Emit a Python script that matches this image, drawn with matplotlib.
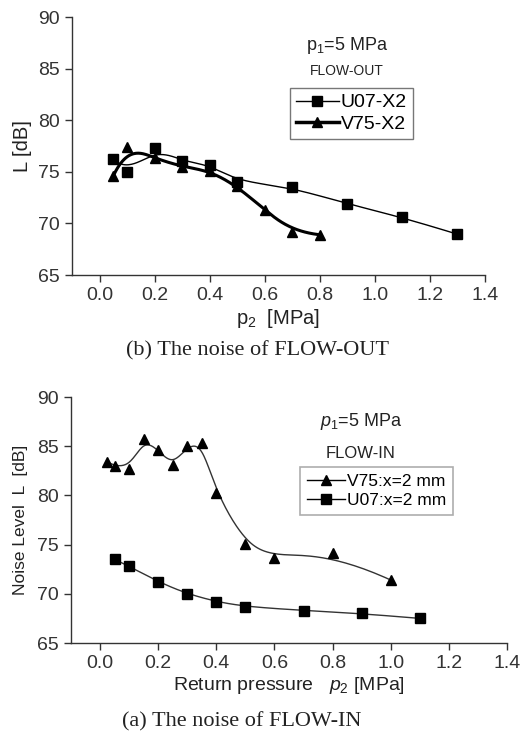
import numpy as np
import matplotlib
matplotlib.use("Agg")
import matplotlib.pyplot as plt

plt.rcParams["font.family"] = ["Liberation Sans", "DejaVu Sans"]
plt.rcParams["mathtext.fontset"] = "custom"
plt.rcParams["mathtext.rm"] = "Liberation Sans"
plt.rcParams["mathtext.it"] = "Liberation Sans:italic"

# -----
# DATA
# -----
# (b) FLOW-OUT
out_u07_p2 = [0.05, 0.1, 0.2, 0.3, 0.4, 0.5, 0.7, 0.9, 1.1, 1.3]
out_u07_L = [76.2, 75.0, 77.35, 76.0, 75.7, 74.05, 73.5, 71.85, 70.6, 68.95]
out_v75_p2 = [0.05, 0.1, 0.2, 0.3, 0.4, 0.5, 0.6, 0.7, 0.8]
out_v75_L = [74.6, 77.45, 76.3, 75.5, 75.1, 73.6, 71.3, 69.2, 68.9]

# (a) FLOW-IN
in_v75_p2 = [0.025, 0.05, 0.1, 0.15, 0.2, 0.25, 0.3, 0.35, 0.4, 0.5, 0.6, 0.8, 1.0]
in_v75_L = [83.4, 83.0, 82.7, 85.7, 84.6, 83.05, 85.0, 85.3, 80.2, 75.1, 73.6, 74.1, 71.4]
in_u07_p2 = [0.05, 0.1, 0.2, 0.3, 0.4, 0.5, 0.7, 0.9, 1.1]
in_u07_L = [73.5, 72.8, 71.2, 70.0, 69.2, 68.7, 68.3, 68.0, 67.5]

x_ticks = [0.0, 0.2, 0.4, 0.6, 0.8, 1.0, 1.2, 1.4]
y_ticks = [65, 70, 75, 80, 85, 90]


def bspline(xs, ys, n=300):
    # clamped cubic B-spline with the data points as control points
    pts = np.column_stack([xs, ys]).astype(float)
    m = len(pts)
    k = 3
    knots = np.concatenate([np.zeros(k), np.arange(m - k + 1), np.full(k, m - k)]).astype(float)
    t = np.linspace(0, m - k, n)
    t[-1] -= 1e-9
    # Cox-de Boor
    N = np.zeros((n, len(knots) - 1))
    for i in range(len(knots) - 1):
        N[:, i] = (t >= knots[i]) & (t < knots[i + 1])
    for d in range(1, k + 1):
        Nn = np.zeros((n, len(knots) - 1 - d))
        for i in range(len(knots) - 1 - d):
            a = knots[i + d] - knots[i]
            b = knots[i + d + 1] - knots[i + 1]
            left = (t - knots[i]) / a * N[:, i] if a > 0 else 0
            right = (knots[i + d + 1] - t) / b * N[:, i + 1] if b > 0 else 0
            Nn[:, i] = left + right
        N = Nn
    curve = N @ pts
    return curve[:, 0], curve[:, 1]


def style_axes(ax):
    ax.spines["top"].set_visible(False)
    ax.spines["right"].set_visible(False)
    for s in ("left", "bottom"):
        ax.spines[s].set_color("#333333")
        ax.spines[s].set_linewidth(1.0)
    ax.set_xlim(-0.1, 1.4)
    ax.set_ylim(65, 90)
    ax.set_xticks(x_ticks)
    ax.set_xticklabels([f"{v:.1f}" for v in x_ticks])
    ax.set_yticks(y_ticks)
    ax.tick_params(direction="out", length=5, width=1, colors="#333333",
                   labelsize=14, labelcolor="#333333")


fig = plt.figure(figsize=(5.2, 7.35), dpi=100)

# ----------------------
# CHART - (b) FLOW-OUT
# ----------------------
ax1 = fig.add_axes([72 / 520, (735 - 275) / 735, 413 / 520, 258 / 735])
style_axes(ax1)

cx, cy = bspline(out_u07_p2, out_u07_L)
ax1.plot(cx, cy, color="black", lw=1.0)
ax1.plot(out_u07_p2, out_u07_L, ls="none", marker="s", ms=6.5, color="black")
cx, cy = bspline(out_v75_p2, out_v75_L)
ax1.plot(cx, cy, color="black", lw=2.2)
ax1.plot(out_v75_p2, out_v75_L, ls="none", marker="^", ms=7, color="black")

h1, = ax1.plot([], [], color="black", lw=1.0, marker="s", ms=6.5)
h2, = ax1.plot([], [], color="black", lw=2.5, marker="^", ms=7)
leg = ax1.legend([h1, h2], ["U07-X2", "V75-X2"], loc="upper left",
                 bbox_to_anchor=(0.528, 0.725), borderaxespad=0, fontsize=14,
                 fancybox=False, edgecolor="#555555", handlelength=2.2,
                 handletextpad=0.1, borderpad=0.3, labelspacing=0.2)
leg.get_frame().set_linewidth(1.0)

ax1.text(0.665, 0.89, "p$_1$=5 MPa", transform=ax1.transAxes, ha="center",
         va="center", fontsize=13, color="#222222")
ax1.text(0.665, 0.79, "FLOW-OUT", transform=ax1.transAxes, ha="center",
         va="center", fontsize=10, color="#222222")

ax1.set_ylabel("L [dB]", fontsize=14.5, color="#222222", labelpad=5)
ax1.set_xlabel("p$_2$  [MPa]", fontsize=14.5, color="#222222", labelpad=2)
fig.text(258 / 520, 1 - 351 / 735, "(b) The noise of FLOW-OUT", ha="center",
         va="center", fontsize=16, family="Liberation Serif", color="#222222")

# ---------------------
# CHART - (a) FLOW-IN
# ---------------------
ax2 = fig.add_axes([71 / 520, (735 - 643) / 735, 436 / 520, 246 / 735])
style_axes(ax2)

cx, cy = bspline(in_v75_p2, in_v75_L)
ax2.plot(cx, cy, color="#333333", lw=1.0)
ax2.plot(in_v75_p2, in_v75_L, ls="none", marker="^", ms=7, color="black")
cx, cy = bspline(in_u07_p2, in_u07_L)
ax2.plot(cx, cy, color="#333333", lw=1.0)
ax2.plot(in_u07_p2, in_u07_L, ls="none", marker="s", ms=6.5, color="black")

h3, = ax2.plot([], [], color="black", lw=1.0, marker="^", ms=7)
h4, = ax2.plot([], [], color="black", lw=1.0, marker="s", ms=6.5)
leg = ax2.legend([h3, h4], ["V75:x=2 mm", "U07:x=2 mm"], loc="upper left",
                 bbox_to_anchor=(0.525, 0.715), borderaxespad=0, fontsize=12.5,
                 fancybox=False, edgecolor="#999999", handlelength=2.2,
                 handletextpad=0.1, borderpad=0.4, labelspacing=0.2)
leg.get_frame().set_linewidth(1.2)

ax2.text(0.665, 0.9, "$p_1$=5 MPa", transform=ax2.transAxes, ha="center",
         va="center", fontsize=13, color="#222222")
ax2.text(0.665, 0.77, "FLOW-IN", transform=ax2.transAxes, ha="center",
         va="center", fontsize=12, color="#222222")

ax2.set_ylabel("Noise Level  L  [dB]", fontsize=12.5, color="#222222", labelpad=7)
ax2.set_xlabel("Return pressure   $p_2$ [MPa]", fontsize=14, color="#222222", labelpad=2)
fig.text(242 / 520, 1 - 722 / 735, "(a) The noise of FLOW-IN", ha="center",
         va="center", fontsize=16, family="Liberation Serif", color="#222222")

fig.savefig("out.png", dpi=100)
